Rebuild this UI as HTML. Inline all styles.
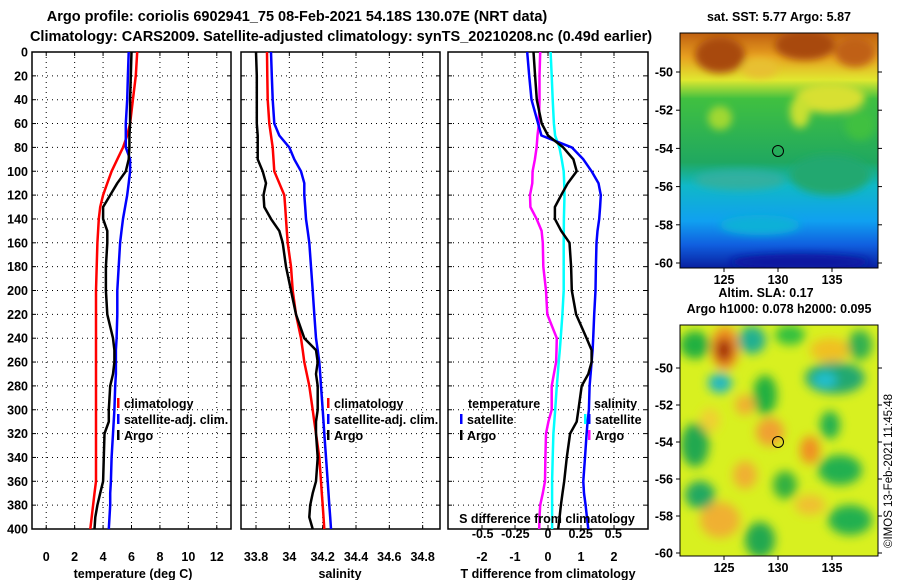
<!DOCTYPE html>
<html><head><meta charset="utf-8"><style>
body{margin:0;background:#fff;width:900px;height:580px;overflow:hidden}
svg{display:block;font-family:"Liberation Sans",sans-serif;font-weight:bold}
</style></head><body>
<svg id="c" width="900" height="580">
<defs>
<filter id="bl" x="-30%" y="-30%" width="160%" height="160%"><feGaussianBlur stdDeviation="5"/></filter>
<filter id="bl2" x="-20%" y="-20%" width="140%" height="140%"><feGaussianBlur stdDeviation="4"/></filter>
<clipPath id="m1"><rect x="680" y="33" width="198" height="235"/></clipPath>
<clipPath id="m2"><rect x="680" y="325" width="198" height="231"/></clipPath>
<linearGradient id="sstg" x1="0" y1="0" x2="0" y2="1">
<stop offset="0" stop-color="#c06010"/><stop offset="0.1" stop-color="#e8a020"/><stop offset="0.2" stop-color="#e0e830"/>
<stop offset="0.28" stop-color="#40c040"/><stop offset="0.55" stop-color="#20a860"/><stop offset="0.65" stop-color="#10b8c8"/>
<stop offset="0.8" stop-color="#10a0f0"/><stop offset="0.9" stop-color="#1060e0"/><stop offset="1" stop-color="#0820a0"/></linearGradient>
</defs>
<text x="297" y="21" text-anchor="middle" font-size="14.5">Argo profile: coriolis 6902941_75 08-Feb-2021 54.18S 130.07E (NRT data)</text>
<text x="341" y="41" text-anchor="middle" font-size="14.5">Climatology: CARS2009. Satellite-adjusted climatology: synTS_20210208.nc (0.49d earlier)</text>
<g id="panels"></g>
<g>
<text x="779" y="21" text-anchor="middle" font-size="12.5">sat. SST: 5.77 Argo: 5.87</text>
<g clip-path="url(#m1)">
<rect x="680" y="33" width="198" height="235" fill="url(#sstg)"/>
<g filter="url(#bl2)">
<ellipse cx="720" cy="55" rx="25" ry="18" fill="#a84810"/>
<ellipse cx="805" cy="45" rx="30" ry="15" fill="#a84810"/>
<ellipse cx="855" cy="52" rx="20" ry="15" fill="#c06018"/>
<ellipse cx="760" cy="68" rx="18" ry="10" fill="#e8c030"/>
<ellipse cx="830" cy="98" rx="35" ry="15" fill="#d8e030"/>
<ellipse cx="720" cy="118" rx="12" ry="12" fill="#a0d830"/>
<ellipse cx="800" cy="112" rx="10" ry="16" fill="#c8e030"/>
<ellipse cx="860" cy="125" rx="15" ry="15" fill="#40c040"/>
<ellipse cx="740" cy="180" rx="45" ry="10" fill="#30b0a0"/>
<ellipse cx="830" cy="175" rx="40" ry="20" fill="#20a870"/>
<ellipse cx="760" cy="225" rx="40" ry="10" fill="#10b0d8"/>
<ellipse cx="800" cy="262" rx="70" ry="8" fill="#0818a0"/>
</g>
</g>
<rect x="680" y="33" width="198" height="235" fill="none" stroke="#000"/>
<circle cx="778" cy="151" r="5.5" fill="none" stroke="#000"/>
</g>
<g>
<text x="766" y="297" text-anchor="middle" font-size="12.5">Altim. SLA: 0.17</text>
<text x="779" y="313" text-anchor="middle" font-size="12.5">Argo h1000: 0.078 h2000: 0.095</text>
<g clip-path="url(#m2)">
<rect x="680" y="325" width="198" height="231" fill="#d8f020"/>
<g filter="url(#bl)">
<ellipse cx="725" cy="348" rx="14" ry="22" fill="#f09020"/>
<ellipse cx="724" cy="350" rx="8" ry="12" fill="#a02808"/>
<ellipse cx="695" cy="345" rx="15" ry="14" fill="#20b040"/>
<ellipse cx="752" cy="340" rx="14" ry="14" fill="#20b090"/>
<ellipse cx="790" cy="335" rx="15" ry="10" fill="#30c040"/>
<ellipse cx="830" cy="350" rx="20" ry="12" fill="#f0c020"/>
<ellipse cx="860" cy="345" rx="12" ry="15" fill="#30b050"/>
<ellipse cx="835" cy="378" rx="30" ry="16" fill="#20a870"/>
<ellipse cx="825" cy="380" rx="12" ry="8" fill="#20c0d0"/>
<ellipse cx="720" cy="383" rx="12" ry="10" fill="#20b8c0"/>
<ellipse cx="765" cy="395" rx="12" ry="20" fill="#20b040"/>
<ellipse cx="745" cy="405" rx="10" ry="10" fill="#f0b030"/>
<ellipse cx="770" cy="432" rx="14" ry="14" fill="#f0a030"/>
<ellipse cx="810" cy="450" rx="10" ry="14" fill="#f09020"/>
<ellipse cx="695" cy="445" rx="14" ry="22" fill="#20a850"/>
<ellipse cx="840" cy="470" rx="22" ry="15" fill="#20b050"/>
<ellipse cx="830" cy="425" rx="10" ry="14" fill="#20b050"/>
<ellipse cx="745" cy="475" rx="12" ry="14" fill="#f0b030"/>
<ellipse cx="720" cy="520" rx="20" ry="18" fill="#f0b030"/>
<ellipse cx="760" cy="540" rx="15" ry="18" fill="#20a850"/>
<ellipse cx="850" cy="520" rx="22" ry="15" fill="#20b050"/>
<ellipse cx="810" cy="505" rx="15" ry="10" fill="#f0c030"/>
<ellipse cx="700" cy="495" rx="15" ry="14" fill="#20a860"/>
<ellipse cx="785" cy="485" rx="12" ry="14" fill="#30b040"/>
<ellipse cx="710" cy="420" rx="10" ry="12" fill="#f0d030"/>
</g>
</g>
<rect x="680" y="325" width="198" height="231" fill="none" stroke="#000"/>
<circle cx="778" cy="442" r="5.5" fill="none" stroke="#000"/>
</g>
<text transform="translate(892,548) rotate(-90)" font-size="11.5" font-weight="normal">©IMOS 13-Feb-2021 11:45:48</text>
</svg>
<script>
const depths=[0,20,40,60,70,80,90,100,110,120,130,140,150,160,180,200,220,240,250,260,270,280,300,310,320,340,360,370,380,390,400];
const tempClim=[6.4,6.3,6.1,5.9,5.7,5.4,5.0,4.6,4.3,4.0,3.8,3.7,3.65,3.6,3.55,3.5,3.5,3.5,3.5,3.5,3.5,3.5,3.5,3.5,3.5,3.5,3.5,3.4,3.3,3.2,3.1];
const tempSat=[5.8,5.75,5.7,5.6,5.6,5.6,5.9,5.9,5.8,5.7,5.55,5.4,5.3,5.2,5.1,5.0,5.0,4.95,4.9,4.9,4.9,4.85,4.8,4.75,4.7,4.6,4.55,4.5,4.5,4.45,4.4];
const tempArgo=[6.0,5.95,5.9,5.9,5.85,5.85,5.8,5.6,5.0,4.5,4.0,4.0,4.3,4.3,4.2,4.2,4.3,4.7,4.8,4.8,4.7,4.5,4.4,4.4,4.1,4.05,4.0,3.8,3.6,3.45,3.4];
const salClim=[33.866,33.868,33.87,33.88,33.89,33.90,33.905,33.91,33.94,33.97,33.975,33.98,33.985,33.99,34.01,34.02,34.04,34.07,34.08,34.09,34.105,34.12,34.14,34.15,34.16,34.18,34.19,34.195,34.20,34.205,34.21];
const salSat=[33.89,33.895,33.90,33.91,33.94,34.00,34.03,34.07,34.09,34.09,34.095,34.10,34.11,34.12,34.13,34.14,34.15,34.16,34.17,34.18,34.185,34.19,34.20,34.205,34.21,34.22,34.23,34.235,34.24,34.245,34.25];
const salArgo=[33.80,33.805,33.805,33.805,33.81,33.81,33.81,33.84,33.86,33.845,33.85,33.89,33.94,33.96,33.98,34.01,34.04,34.09,34.16,34.17,34.16,34.17,34.17,34.16,34.16,34.17,34.16,34.14,34.125,34.12,34.14];
const dTSat=[-0.63,-0.57,-0.5,-0.3,-0.2,0.72,1.07,1.32,1.53,1.6,1.58,1.55,1.5,1.47,1.45,1.44,1.4,1.37,1.35,1.32,1.29,1.26,1.24,1.2,1.17,1.12,1.07,1.09,1.14,1.18,1.22];
const dTArgo=[-0.44,-0.39,-0.34,-0.19,0.0,0.46,0.77,0.87,0.6,0.4,0.21,0.21,0.4,0.65,0.7,0.72,0.85,1.17,1.32,1.32,1.22,1.02,0.92,0.87,0.67,0.57,0.49,0.44,0.39,0.35,0.31];
const dSSat=[0.02,0.028,0.036,0.045,0.054,0.087,0.105,0.12,0.124,0.126,0.124,0.122,0.121,0.12,0.12,0.12,0.11,0.097,0.09,0.082,0.075,0.067,0.055,0.048,0.041,0.036,0.031,0.031,0.031,0.031,0.031];
const dSArgo=[-0.06,-0.065,-0.065,-0.07,-0.08,-0.087,-0.1,-0.118,-0.12,-0.138,-0.135,-0.087,-0.049,-0.04,-0.036,-0.015,-0.005,0.067,0.065,0.062,0.045,0.028,0.028,0.003,-0.015,-0.02,-0.023,-0.04,-0.06,-0.065,-0.067];
const depthTicks=[0,20,40,60,80,100,120,140,160,180,200,220,240,260,280,300,320,340,360,380,400];
const tTicks=[0,2,4,6,8,10,12];
const sTicks=[33.8,34,34.2,34.4,34.6,34.8];
const dtTicks=[-2,-1,0,1,2];
const dsTicks=[-0.5,-0.25,0,0.25,0.5];
const latTicks=[-50,-52,-54,-56,-58,-60];
const lonTicks=[125,130,135];

const NS='http://www.w3.org/2000/svg';
const svg=document.getElementById('panels');
function mk(t,a,p){const e=document.createElementNS(NS,t);for(const k in a)e.setAttribute(k,a[k]);(p||svg).appendChild(e);return e;}
const Y0=52,Y1=529;
const yD=d=>Y0+(Y1-Y0)*d/400;
function lin(d0,d1,p0,p1){return v=>p0+(v-d0)*(p1-p0)/(d1-d0);}
const P=[
 {x0:32,x1:231,sc:lin(-1,13,32,231),ticks:tTicks,title:'temperature (deg C)',name:'temperature-panel',tx:133},
 {x0:241,x1:440,sc:lin(33.71,34.904,241,440),ticks:sTicks,title:'salinity',name:'salinity-panel',tx:340},
 {x0:448,x1:648,sc:lin(-3.03,3.03,448,648),ticks:dtTicks,title:'T difference from climatology',name:'difference-panel',tx:548}
];
const sDiff=lin(-0.75,0.75,450,646);
P.forEach((p,i)=>{
 const g=mk('g',{});
 
 
 depthTicks.forEach(d=>{
  const l=mk('line',{x1:p.x0,x2:p.x1,y1:yD(d),y2:yD(d),stroke:'#000','stroke-dasharray':'1,4','stroke-width':1},g);
  
  
  mk('line',{x1:p.x0,x2:p.x0+4,y1:yD(d),y2:yD(d),stroke:'#000'},g);
  mk('line',{x1:p.x1-4,x2:p.x1,y1:yD(d),y2:yD(d),stroke:'#000'},g);
  if(i==0){const t=mk('text',{x:28,y:yD(d)+4.5,'text-anchor':'end','font-size':12.5},g);t.textContent=d;
   }
 });
 p.ticks.forEach(v=>{
  const x=p.sc(v);
  mk('line',{x1:x,x2:x,y1:Y0,y2:Y1,stroke:'#000','stroke-dasharray':'1,4'},g);
  mk('line',{x1:x,x2:x,y1:Y1-4,y2:Y1,stroke:'#000'},g);
  mk('line',{x1:x,x2:x,y1:Y0,y2:Y0+4,stroke:'#000'},g);
  const t=mk('text',{x:x,y:561,'text-anchor':'middle','font-size':12.5},g);t.textContent=v;
  
 });
 const tt=mk('text',{x:p.tx,y:578,'text-anchor':'middle','font-size':12.5},g);tt.textContent=p.title;
 
 mk('rect',{x:p.x0,y:Y0,width:p.x1-p.x0,height:Y1-Y0,fill:'none',stroke:'#000','stroke-width':1.5},g);
 p.g=g;
});
function line(vals,sc,col,w,name,g){
 const pts=vals.map((v,i)=>sc(v).toFixed(1)+','+yD(depths[i]).toFixed(1)).join(' ');
 const e=mk('polyline',{points:pts,fill:'none',stroke:col,'stroke-width':w,'stroke-linejoin':'round'},g);
 
 
}
line(tempClim,P[0].sc,'#f00',2.5,'temp-climatology-line',P[0].g);
line(tempSat,P[0].sc,'#00f',2.5,'temp-satellite-line',P[0].g);
line(tempArgo,P[0].sc,'#000',2.5,'temp-argo-line',P[0].g);
line(salClim,P[1].sc,'#f00',2.5,'sal-climatology-line',P[1].g);
line(salSat,P[1].sc,'#00f',2.5,'sal-satellite-line',P[1].g);
line(salArgo,P[1].sc,'#000',2.5,'sal-argo-line',P[1].g);
line(dSSat,sDiff,'#0ff',2.5,'sdiff-satellite-line',P[2].g);
line(dSArgo,sDiff,'#f0f',2.5,'sdiff-argo-line',P[2].g);
line(dTSat,P[2].sc,'#00f',2.5,'tdiff-satellite-line',P[2].g);
line(dTArgo,P[2].sc,'#000',2.5,'tdiff-argo-line',P[2].g);
function leg(x,y,col,txt,g,col2){
 if(col){mk('rect',{x:x,y:y-10,width:2.5,height:10,fill:col},g);}
 if(col2){mk('rect',{x:x-4,y:y-10,width:2.5,height:10,fill:col2},g);}
 const t=mk('text',{x:x+7,y:y,'font-size':12.5},g);t.textContent=txt;
 
}
leg(117,408,'#f00','climatology',P[0].g);leg(117,424,'#00f','satellite-adj. clim.',P[0].g);leg(117,440,'#000','Argo',P[0].g);
leg(327,408,'#f00','climatology',P[1].g);leg(327,424,'#00f','satellite-adj. clim.',P[1].g);leg(327,440,'#000','Argo',P[1].g);
leg(461,408,null,'temperature',P[2].g);leg(460,424,'#00f','satellite',P[2].g);leg(460,440,'#000','Argo',P[2].g);
leg(587,408,null,'salinity',P[2].g);leg(588,424,'#00f','satellite',P[2].g,'#0ff');leg(588,440,'#f0f','Argo',P[2].g);
const st=mk('text',{x:547,y:523,'text-anchor':'middle','font-size':12.5},P[2].g);st.textContent='S difference from climatology';

dsTicks.forEach(v=>{const t=mk('text',{x:sDiff(v),y:538,'text-anchor':'middle','font-size':12.5},P[2].g);t.textContent=v;
 });
const latTop=lin(-50,-60,72,263), latBot=lin(-50,-60,368,553), lonX=lin(125,135,724,832);
[[latTop,268],[latBot,556]].forEach(([ly,yb])=>{
 latTicks.forEach(v=>{const y=ly(v);mk('line',{x1:676,x2:680,y1:y,y2:y,stroke:'#000'});mk('line',{x1:878,x2:882,y1:y,y2:y,stroke:'#000'});
  const t=mk('text',{x:673,y:y+4.5,'text-anchor':'end','font-size':12.5});t.textContent=v;
  });
 lonTicks.forEach(v=>{const x=lonX(v);mk('line',{x1:x,x2:x,y1:yb,y2:yb+4,stroke:'#000'});
  const t=mk('text',{x:x,y:yb+16,'text-anchor':'middle','font-size':12.5});t.textContent=v;
  });
});
</script>
</body></html>
